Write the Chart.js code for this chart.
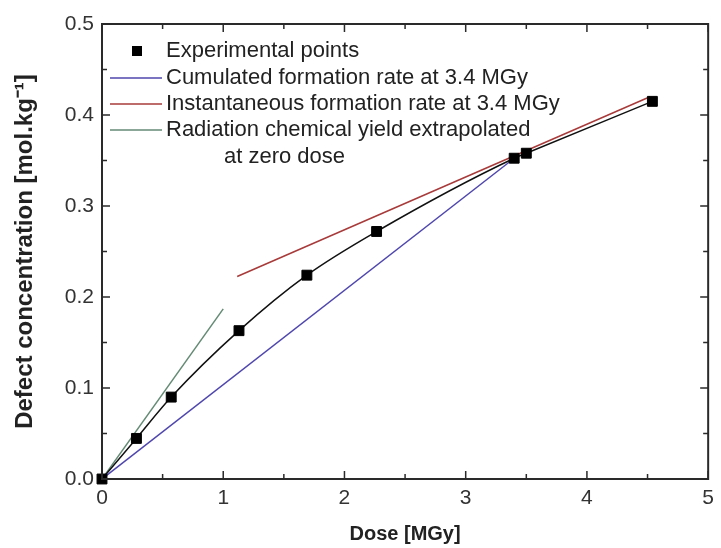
<!DOCTYPE html>
<html lang="en">
<head>
    <meta charset="UTF-8">
    <title>Defect concentration vs dose</title>
    <script src="https://cdn.jsdelivr.net/npm/chart.js@4.4.1/dist/chart.umd.min.js"></script>
    <style>
        body {
            margin: 0;
            background-color: #fff;
        }
        #wrap {
            position: relative;
            width: 721px;
            height: 548px;
        }
    </style>
</head>
<body>
    <div id="wrap"><canvas id="chart"></canvas></div>

    <script>
        // experimental points
        const doseExp = [0, 0.284, 0.571, 1.13, 1.69, 2.265, 3.40, 3.50, 4.54];
        const concExp = [0, 0.0446, 0.090, 0.163, 0.224, 0.272, 0.3525, 0.358, 0.415];

        // cumulated formation rate at 3.4 MGy
        const doseCumul = [0, 3.4];
        const concCumul = [0, 0.3525];

        // instantaneous formation rate at 3.4 MGy
        const doseInst = [1.115, 4.52];
        const concInst = [0.2225, 0.42];

        // radiation chemical yield extrapolated at zero dose
        const doseYield = [0, 1.0];
        const concYield = [0, 0.187];

        const xTickValues = [0, 1, 2, 3, 4, 5];
        const yTickValues = [0.0, 0.1, 0.2, 0.3, 0.4, 0.5];

        const legendLabels = [
            'Experimental points',
            'Cumulated formation rate at 3.4 MGy',
            'Instantaneous formation rate at 3.4 MGy',
            'Radiation chemical yield extrapolated',
            'at zero dose'
        ];

        const FONT = '"Liberation Sans", Arial, sans-serif';

        function pts(xs, ys) {
            return xs.map((x, i) => ({ x: x, y: ys[i] }));
        }

        // frame, inward ticks (major + minor) and legend
        const frameTicks = {
            id: 'frameTicks',
            afterDatasetsDraw(chart) {
                const ctx = chart.ctx;
                const a = chart.chartArea;
                const sx = chart.scales.x, sy = chart.scales.y;
                ctx.save();
                ctx.strokeStyle = '#2a2a2a';
                ctx.lineWidth = 2;
                ctx.strokeRect(a.left, a.top, a.right - a.left, a.bottom - a.top);

                ctx.lineWidth = 1.5;
                ctx.beginPath();
                xTickValues.forEach((v, i) => {
                    const px = sx.getPixelForValue(v);
                    ctx.moveTo(px, a.bottom); ctx.lineTo(px, a.bottom - 8);
                    ctx.moveTo(px, a.top); ctx.lineTo(px, a.top + 8);
                    if (i < xTickValues.length - 1) {
                        const m = sx.getPixelForValue((v + xTickValues[i + 1]) / 2);
                        ctx.moveTo(m, a.bottom); ctx.lineTo(m, a.bottom - 5);
                        ctx.moveTo(m, a.top); ctx.lineTo(m, a.top + 5);
                    }
                });
                yTickValues.forEach((v, i) => {
                    const py = sy.getPixelForValue(v);
                    ctx.moveTo(a.left, py); ctx.lineTo(a.left + 8, py);
                    ctx.moveTo(a.right, py); ctx.lineTo(a.right - 8, py);
                    if (i < yTickValues.length - 1) {
                        const m = sy.getPixelForValue((v + yTickValues[i + 1]) / 2);
                        ctx.moveTo(a.left, m); ctx.lineTo(a.left + 5, m);
                        ctx.moveTo(a.right, m); ctx.lineTo(a.right - 5, m);
                    }
                });
                ctx.stroke();

                // legend
                const ds = chart.data.datasets;
                ctx.font = '22px ' + FONT;
                ctx.textBaseline = 'middle';
                const rows = [51, 78, 104, 130];
                ctx.fillStyle = '#000';
                ctx.fillRect(132, rows[0] - 5, 10, 10);
                for (let i = 1; i < 4; i++) {
                    ctx.strokeStyle = ds[i].borderColor;
                    ctx.lineWidth = 1.5;
                    ctx.beginPath();
                    ctx.moveTo(110, rows[i]);
                    ctx.lineTo(162, rows[i]);
                    ctx.stroke();
                }
                ctx.fillStyle = '#222';
                for (let i = 0; i < 4; i++) {
                    ctx.fillText(legendLabels[i], 166, rows[i]);
                }
                ctx.fillText(legendLabels[4], 224, 157);
                ctx.restore();
            }
        };

        const ctx = document.getElementById('chart').getContext('2d');
        new Chart(ctx, {
            type: 'scatter',
            data: {
                datasets: [{
                    label: legendLabels[0],
                    data: pts(doseExp, concExp),
                    showLine: true,
                    cubicInterpolationMode: 'monotone',
                    borderColor: '#111',
                    borderWidth: 1.5,
                    pointStyle: 'rect',
                    pointRadius: 7,
                    pointBorderWidth: 1,
                    pointBackgroundColor: '#000',
                    pointBorderColor: '#000',
                    clip: false
                }, {
                    label: legendLabels[1],
                    data: pts(doseCumul, concCumul),
                    showLine: true,
                    borderColor: '#4f47ad',
                    borderWidth: 1.5,
                    pointRadius: 0
                }, {
                    label: legendLabels[2],
                    data: pts(doseInst, concInst),
                    showLine: true,
                    borderColor: '#a83a3a',
                    borderWidth: 1.5,
                    pointRadius: 0
                }, {
                    label: legendLabels[3],
                    data: pts(doseYield, concYield),
                    showLine: true,
                    borderColor: '#648a74',
                    borderWidth: 1.5,
                    pointRadius: 0
                }]
            },
            options: {
                responsive: true,
                maintainAspectRatio: false,
                animation: false,
                layout: { padding: { top: 24, right: 9, left: 0, bottom: 0 } },
                plugins: {
                    legend: { display: false },
                    tooltip: { enabled: false }
                },
                scales: {
                    x: {
                        type: 'linear',
                        min: 0,
                        max: 5,
                        afterFit: s => { s.height = 69; },
                        afterBuildTicks: s => { s.ticks = xTickValues.map(v => ({ value: v })); },
                        grid: { display: false, drawTicks: false },
                        border: { display: false },
                        ticks: {
                            padding: 7,
                            color: '#333',
                            font: { family: FONT, size: 21 },
                            maxRotation: 0
                        },
                        title: {
                            display: true,
                            text: 'Dose [MGy]',
                            color: '#222',
                            font: { family: FONT, size: 20, weight: 'bold' },
                            padding: { top: 0, bottom: 2 }
                        }
                    },
                    y: {
                        type: 'linear',
                        min: 0,
                        max: 0.5,
                        afterFit: s => { s.width = 102; },
                        afterBuildTicks: s => { s.ticks = yTickValues.map(v => ({ value: v })); },
                        grid: { display: false, drawTicks: false },
                        border: { display: false },
                        ticks: {
                            padding: 8,
                            color: '#333',
                            font: { family: FONT, size: 21 },
                            callback: v => v.toFixed(1)
                        },
                        title: {
                            display: true,
                            text: 'Defect concentration [mol.kg\u207B\u00B9]',
                            color: '#222',
                            font: { family: FONT, size: 24, weight: 'bold' },
                            padding: { top: 11, bottom: 0 }
                        }
                    }
                }
            },
            plugins: [frameTicks]
        });
    </script>
</body>
</html>
